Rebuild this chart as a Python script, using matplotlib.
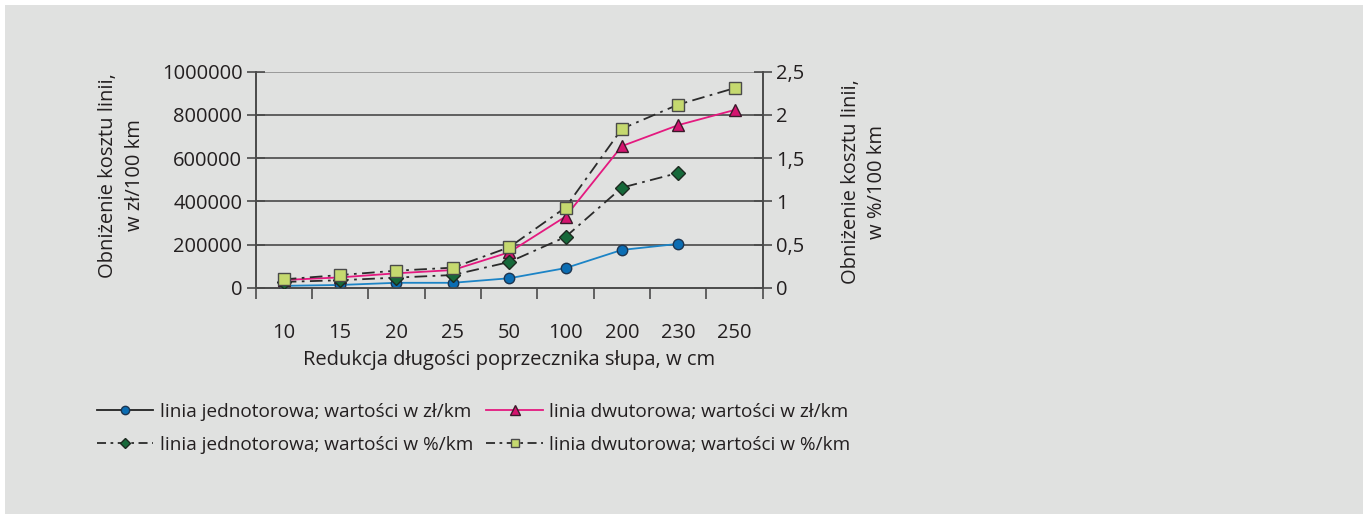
import matplotlib.pyplot as plt
from matplotlib.lines import Line2D
from matplotlib.patches import Rectangle

categories = ['10', '15', '20', '25', '50', '100', '200', '230', '250']

# zł/100 km (left axis)
single_zl = [10000, 14000, 24000, 24000, 45000, 92000, 176000, 204000]
double_zl = [37000, 49000, 68000, 83000, 165000, 330000, 656000, 753000, 823000]

# %/100 km (right axis)
single_pct = [0.07, 0.09, 0.12, 0.15, 0.30, 0.59, 1.16, 1.33]
double_pct = [0.10, 0.15, 0.20, 0.235, 0.47, 0.93, 1.84, 2.12, 2.31]

left_ticks = [0, 200000, 400000, 600000, 800000, 1000000]
right_ticks = [0, 0.5, 1, 1.5, 2, 2.5]
right_labels = ['0', '0,5', '1', '1,5', '2', '2,5']

bg = '#e0e1e0'
txt = '#231f20'
fs = 14.5
plt.rcParams['font.family'] = ['Open Sans', 'DejaVu Sans']
plt.rcParams['font.size'] = fs

fig = plt.figure(figsize=(13.63, 5.14), dpi=100)
fig.patch.set_facecolor('white')
fig.patches.append(Rectangle((5 / 1363, 0), 1, 1 - 5 / 514, transform=fig.transFigure,
                             facecolor=bg, edgecolor='none', zorder=-10))

ax = fig.add_axes([0.1875, 0.4397, 0.5596 - 0.1875, 0.8605 - 0.4397])
ax.set_facecolor(bg)
ax2 = ax.twinx()

x_all = list(range(len(categories)))
x_s = x_all[:len(single_zl)]

ax.set_xlim(-0.5, len(categories) - 0.5)
ax.set_ylim(0, 1000000)
ax2.set_ylim(0, 2.5)

for y in left_ticks[1:]:
    ax.axhline(y, color='#5f5f5f' if y < 1000000 else '#9a9a9a', lw=1.4, zorder=0)

dash = (0, (7, 3, 1.5, 3))
ax.plot(x_s, single_zl, color='#1c84c6', lw=1.3, marker='o', ms=7.5,
        mfc='#0b6db3', mec='#1d3550', mew=1.0, zorder=3)
ax.plot(x_all, double_zl, color='#e4197f', lw=1.3, marker='^', ms=8.5,
        mfc='#d4146f', mec='#3a1a2a', mew=1.0, zorder=3)
ax2.plot(x_s, single_pct, color='#2b2b2b', lw=1.3, ls=dash, marker='D', ms=7,
         mfc='#16693a', mec='#1d2a20', mew=1.0, zorder=3)
ax2.plot(x_all, double_pct, color='#2b2b2b', lw=1.3, ls=dash, marker='s', ms=8.5,
         mfc='#c5d96f', mec='#4a4a4a', mew=1.0, zorder=3)

for a in (ax, ax2):
    a.spines['top'].set_visible(False)
    for s in ('left', 'right', 'bottom'):
        a.spines[s].set_color('#4a4a4a')
        a.spines[s].set_linewidth(1.2)

ax.set_yticks(left_ticks)
ax.set_yticklabels([str(v) for v in left_ticks])
ax.tick_params(axis='y', direction='inout', length=13, width=1.2, color='#4a4a4a',
               labelsize=fs, labelcolor=txt, pad=3)
ax2.set_yticks(right_ticks)
ax2.set_yticklabels(right_labels)
ax2.tick_params(axis='y', direction='inout', length=13, width=1.2, color='#4a4a4a',
                labelsize=fs, labelcolor=txt, pad=3)

ax.set_xticks(x_all)
ax.set_xticklabels(categories)
ax.set_xticks([i - 0.5 for i in range(len(categories) + 1)], minor=True)
ax.tick_params(axis='x', which='major', length=0, labelsize=fs, labelcolor=txt, pad=25)
ax.tick_params(axis='x', which='minor', direction='out', length=8, width=1.2, color='#4a4a4a')

ax.set_xlabel('Redukcja długości poprzecznika słupa, w cm', fontsize=fs, color=txt, labelpad=5)
ax.text(-0.264, 0.52, 'Obniżenie kosztu linii,\nw zł/100 km', transform=ax.transAxes,
        rotation=90, ha='center', va='center', multialignment='center',
        fontsize=fs, color=txt, linespacing=1.45)
ax2.text(1.2, 0.49, 'Obniżenie kosztu linii,\nw %/100 km', transform=ax2.transAxes,
         rotation=90, ha='center', va='center', multialignment='center',
         fontsize=fs, color=txt, linespacing=1.4)

handles = [
    Line2D([], [], color='#222222', lw=1.3, marker='o', ms=6, mfc='#0b6db3', mec='#1d3550'),
    Line2D([], [], color='#2b2b2b', lw=1.3, ls=(0, (5, 2.5, 1.5, 2.5)), marker='D', ms=5.5,
           mfc='#16693a', mec='#1d2a20'),
    Line2D([], [], color='#e4197f', lw=1.3, marker='^', ms=7, mfc='#d4146f', mec='#3a1a2a'),
    Line2D([], [], color='#2b2b2b', lw=1.3, ls=(0, (5, 2.5, 1.5, 2.5)), marker='s', ms=6,
           mfc='#c5d96f', mec='#4a4a4a'),
]
labels = ['linia jednotorowa; wartości w zł/km', 'linia jednotorowa; wartości w %/km',
          'linia dwutorowa; wartości w zł/km', 'linia dwutorowa; wartości w %/km']
leg = fig.legend(handles, labels, loc='upper left', bbox_to_anchor=(97 / 1363, 1 - 403 / 514),
                 ncol=2, frameon=False, fontsize=13.7, handlelength=2.95, handletextpad=0.35,
                 columnspacing=0.7, labelspacing=0.78, borderaxespad=0, borderpad=0)
for t in leg.get_texts():
    t.set_color(txt)

fig.savefig('out.png', dpi=100, facecolor=fig.get_facecolor())
